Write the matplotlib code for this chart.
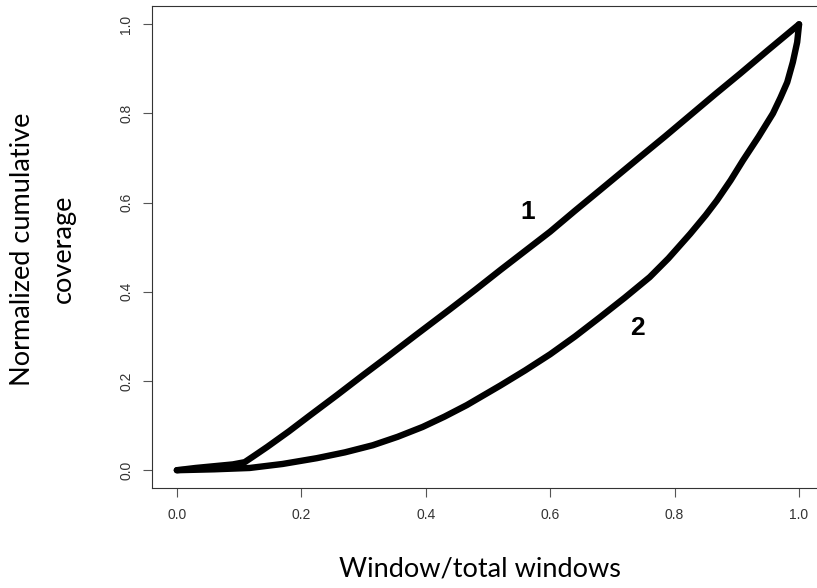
import matplotlib
matplotlib.use("Agg")
import matplotlib.pyplot as plt

# curve 1
x1 = [0.0, 0.03, 0.06, 0.09, 0.109, 0.125, 0.145, 0.18, 0.214, 0.257, 0.30,
      0.34, 0.385, 0.439, 0.48, 0.52, 0.56, 0.60, 0.64, 0.68, 0.744, 0.785,
      0.825, 0.865, 0.905, 0.95, 1.0]
y1 = [0.0, 0.005, 0.009, 0.013, 0.018, 0.033, 0.052, 0.087, 0.123, 0.168, 0.214,
      0.256, 0.304, 0.361, 0.405, 0.449, 0.492, 0.535, 0.582, 0.628, 0.702, 0.749,
      0.796, 0.843, 0.889, 0.942, 1.0]

# curve 2
x2 = [0.0, 0.06, 0.117, 0.17, 0.225, 0.27, 0.315, 0.355, 0.395, 0.43, 0.466,
      0.52, 0.56, 0.60, 0.64, 0.68, 0.72, 0.76, 0.79, 0.825, 0.85, 0.868,
      0.89, 0.91, 0.935, 0.958, 0.97, 0.981, 0.99, 0.997, 1.0]
y2 = [0.0, 0.002, 0.005, 0.014, 0.027, 0.04, 0.056, 0.075, 0.097, 0.12, 0.146,
      0.19, 0.224, 0.26, 0.30, 0.343, 0.387, 0.433, 0.475, 0.53, 0.572, 0.605,
      0.65, 0.695, 0.748, 0.80, 0.835, 0.87, 0.915, 0.96, 1.0]

ticks = [0.0, 0.2, 0.4, 0.6, 0.8, 1.0]
tick_labels = ["0.0", "0.2", "0.4", "0.6", "0.8", "1.0"]

curve_names = ["1", "2"]
name_pos = [(0.564, 0.578), (0.74, 0.32)]

fig = plt.figure(figsize=(8.17, 5.88), dpi=100)
ax = fig.add_axes([0.186, 0.170, 0.8225, 0.819])

ax.plot(x1, y1, color="black", lw=4.6, solid_capstyle="round", solid_joinstyle="round")
ax.plot(x2, y2, color="black", lw=4.6, solid_capstyle="round", solid_joinstyle="round")

for name, (tx, ty) in zip(curve_names, name_pos):
    ax.text(tx, ty, name, fontsize=19, fontweight="bold", family="Liberation Sans",
            ha="center", va="center")

ax.set_xlim(-0.04, 1.04)
ax.set_ylim(-0.04, 1.04)

ax.set_xticks(ticks)
ax.set_xticklabels(tick_labels, family="Liberation Sans", fontsize=10, color="#333333")
ax.set_yticks(ticks)
ax.set_yticklabels(tick_labels, family="Liberation Sans", fontsize=10, color="#333333",
                   rotation=90, va="center")
ax.tick_params(axis="both", length=6.5, width=0.8, color="#555555")
ax.tick_params(axis="x", pad=8)
ax.tick_params(axis="y", pad=7)

for s in ax.spines.values():
    s.set_color("#333333")
    s.set_linewidth(0.8)
ax.spines["right"].set_visible(False)

fig.text(0.588, 1 - 569 / 588, "Window/total windows", fontsize=19.5, family="Lato",
         ha="center", va="center")
fig.text(23 / 817, 1 - 249 / 588, "Normalized cumulative", fontsize=19.5, family="Lato",
         rotation=90, ha="center", va="center")
fig.text(63 / 817, 1 - 249 / 588, "coverage", fontsize=19.5, family="Lato",
         rotation=90, ha="center", va="center")

fig.savefig("out.png", dpi=100)
